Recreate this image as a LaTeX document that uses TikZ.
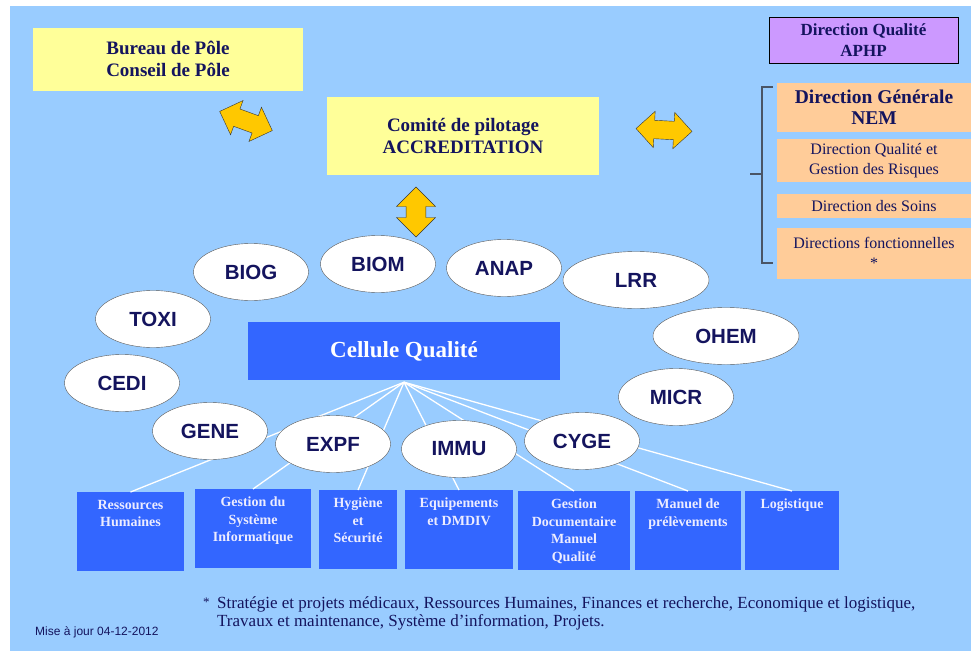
\documentclass[tikz,border=0pt]{standalone}
\usepackage{fontspec}
\setmainfont{Liberation Serif}
\setsansfont{Liberation Sans}
\usetikzlibrary{positioning, shapes.geometric, shapes.arrows}

\definecolor{bgblue}{HTML}{99CCFF}
\definecolor{paleyellow}{HTML}{FFFF99}
\definecolor{navy}{HTML}{14145E}
\definecolor{arrowgold}{HTML}{FFC800}
\definecolor{lilac}{HTML}{CC99FF}
\definecolor{peach}{HTML}{FFCC99}
\definecolor{cellblue}{HTML}{3366FF}
\definecolor{boxtext}{HTML}{ECECFF}
\definecolor{bracketgray}{HTML}{4A5566}

\tikzset{
  board/.style={fill=paleyellow, text=navy, align=center, inner sep=0pt,
    font=\bfseries\fontsize{19}{22}\selectfont},
  aphp/.style={draw=black, line width=0.8pt, fill=lilac, text=navy, align=center, inner sep=0pt,
    font=\bfseries\fontsize{17}{21}\selectfont},
  direction/.style={fill=peach, text=navy, align=center, inner sep=0pt,
    minimum width=194, font=\fontsize{16}{20}\selectfont},
  dblarrow/.style={shape=double arrow, draw=black!80, fill=arrowgold, inner xsep=0pt, inner ysep=9pt,
    double arrow head extend=9pt, double arrow head indent=0pt, minimum width=36},
  cell/.style={fill=cellblue, text=white, inner sep=0pt,
    font=\bfseries\fontsize{23}{26}\selectfont},
  unitbox/.style={fill=cellblue, anchor=north, minimum height=79, inner sep=0pt},
  unitlabel/.style={anchor=north, text=boxtext, align=center, inner xsep=2pt, inner ysep=8pt,
    font=\bfseries\fontsize{14}{17.5}\selectfont},
  lab/.style={shape=ellipse, draw=black!65, fill=white, text=navy, inner sep=0pt,
    minimum width=115, minimum height=57, font=\sffamily\bfseries\fontsize{20.5}{24}\selectfont},
  spoke/.style={white, line width=1.3pt},
  note/.style={text=navy, align=left, inner sep=0pt, font=\fontsize{17}{18.5}\selectfont}
}

\begin{document}
\begin{tikzpicture}[x=1pt, y=-1pt]
    \useasboundingbox (0,0) rectangle (971,653);
    \fill[white] (0,0) rectangle (971,653);
    \fill[bgblue] (10,6) rectangle (971,651);

    % top row
    \node[board, minimum width=270, minimum height=63] (bureau) at (168,59) {Bureau de Pôle\\Conseil de Pôle};
    \node[board, minimum width=272, minimum height=78] (copil) at (463,136) {Comité de pilotage\\ACCREDITATION};
    \node[aphp, minimum width=189, minimum height=46] (dqaphp) at (863.5,40) {Direction Qualité\\APHP};

    \node[direction, minimum height=49, font=\bfseries\fontsize{19.5}{21}\selectfont] (dg) at (874,107.5) {Direction Générale\\NEM};
    \node[direction, minimum height=43] (dqgr) at (874,160.5) {Direction Qualité et\\Gestion des Risques};
    \node[direction, minimum height=24] (soins) at (874,206) {Direction des Soins};
    \node[direction, minimum height=51] (dfonc) at (874,253) {Directions fonctionnelles\\*};
    \draw[bracketgray, line width=1.2pt] (773,87) -- (762,87) -- (762,263) -- (773,263);
    \draw[bracketgray, line width=1.2pt] (750,174) -- (762,174);

    \node[dblarrow, minimum height=56, rotate=-20] (arrowleft) at (246,121) {};
    \node[dblarrow, minimum height=56, rotate=-3] (arrowright) at (664,130) {};
    \node[dblarrow, minimum height=50, minimum width=39, rotate=90] (arrowdown) at (416,212) {};

    % cellule and units
    \node[cell, minimum width=312, minimum height=58] (cq) at (404,351) {Cellule Qualité};

    \node[unitbox, minimum width=107, label={[unitlabel]north:{Ressources\\Humaines}}] (rh) at (130.5,492) {};
    \node[unitbox, minimum width=116, label={[unitlabel]north:{Gestion du\\Système\\Informatique}}] (gsi) at (253,489) {};
    \node[unitbox, minimum width=78, label={[unitlabel]north:{Hygiène\\et\\Sécurité}}] (hs) at (358,490) {};
    \node[unitbox, minimum width=108, label={[unitlabel]north:{Equipements\\et DMDIV}}] (equip) at (459,490) {};
    \node[unitbox, minimum width=112, label={[unitlabel]north:{Gestion\\Documentaire\\Manuel\\Qualité}}] (gdoc) at (574,491) {};
    \node[unitbox, minimum width=106, label={[unitlabel]north:{Manuel de\\prélèvements}}] (prel) at (688,491) {};
    \node[unitbox, minimum width=94, label={[unitlabel]north:{Logistique}}] (logi) at (792,491) {};

    \foreach \u in {rh, gsi, hs, equip, gdoc, prel, logi}
        \draw[spoke] ([yshift=-2]cq.south) -- (\u.north);

    % laboratories
    \node[lab] (biog) at (251,272) {BIOG};
    \node[lab] (biom) at (378,264) {BIOM};
    \node[lab] (anap) at (504,268) {ANAP};
    \node[lab, minimum width=146] (lrr) at (636,280) {LRR};
    \node[lab, minimum width=146] (ohem) at (726,336) {OHEM};
    \node[lab] (micr) at (676,397) {MICR};
    \node[lab] (toxi) at (153,319) {TOXI};
    \node[lab] (cedi) at (122,383) {CEDI};
    \node[lab] (gene) at (210,431) {GENE};
    \node[lab] (expf) at (333,444) {EXPF};
    \node[lab] (immu) at (459,449) {IMMU};
    \node[lab] (cyge) at (582,441) {CYGE};

    % footnote
    \node[note, anchor=north west, font=\fontsize{13}{14}\selectfont] (star) at (203,598) {*};
    \node[note, anchor=north west] (notetext) at (217,596) {Stratégie et projets médicaux, Ressources Humaines, Finances et recherche, Economique et logistique,\\Travaux et maintenance, Système d'information, Projets.};
    \node[note, anchor=west, font=\sffamily\fontsize{12}{14}\selectfont] (update) at (35,632) {Mise à jour 04-12-2012};
\end{tikzpicture}
\end{document}
